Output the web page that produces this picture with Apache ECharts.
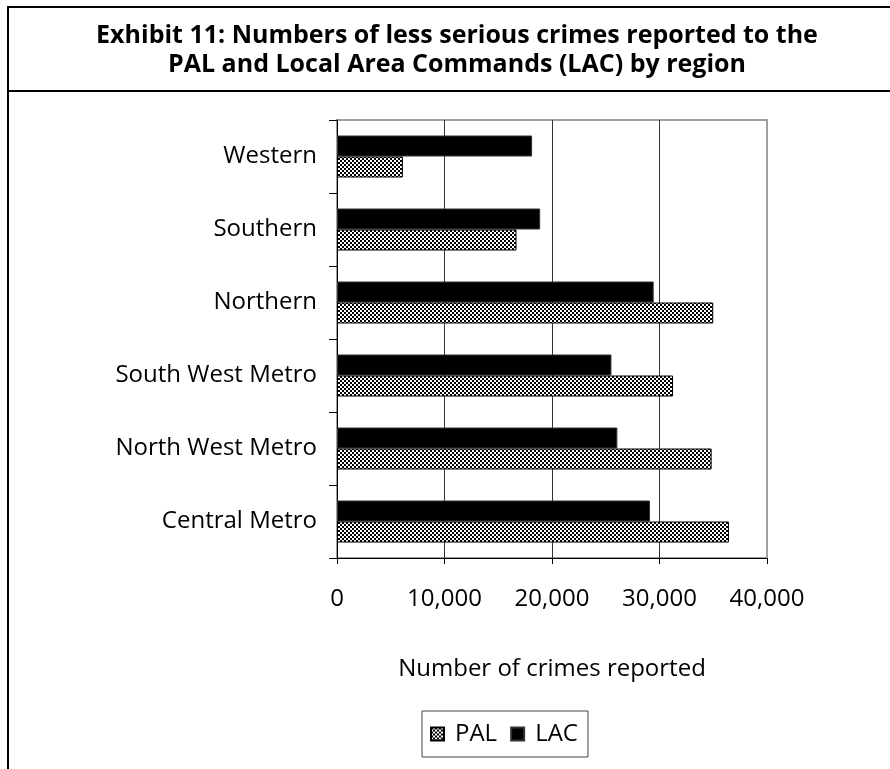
<!DOCTYPE html>
<html>
<head>
<meta charset="utf-8">
<script src="https://cdn.jsdelivr.net/npm/echarts@6/dist/echarts.min.js"></script>
<style>
html,body{margin:0;padding:0;background:#fff;}
#chart{width:890px;height:769px;}
</style>
</head>
<body>
<div id="chart"></div>
<script>
// Data (categories listed bottom-to-top, as the category axis grows upward)
var categories = ['Central Metro', 'North West Metro', 'South West Metro', 'Northern', 'Southern', 'Western'];
var palValues = [36460, 34850, 31260, 35000, 16700, 6130];
var lacValues = [29120, 26080, 25530, 29460, 18900, 18150];
var xTicks = [0, 10000, 20000, 30000, 40000];
var titleLines = ['Exhibit 11: Numbers of less serious crimes reported to the', 'PAL and Local Area Commands (LAC) by region'];
var xAxisName = 'Number of crimes reported';

// checkered pattern for PAL
var pc = document.createElement('canvas');
pc.width = 4; pc.height = 4;
var ctx = pc.getContext('2d');
ctx.fillStyle = '#fff'; ctx.fillRect(0, 0, 4, 4);
ctx.fillStyle = '#000'; ctx.fillRect(0, 0, 2, 2); ctx.fillRect(2, 2, 2, 2);
var palFill = { image: pc, repeat: 'repeat' };

var FONT = '"Open Sans", "Noto Sans", sans-serif';
var chart = echarts.init(document.getElementById('chart'), null, { renderer: 'canvas' });
chart.setOption({
  backgroundColor: '#fff',
  animation: false,
  graphic: [
    { type: 'rect', shape: { x: 8, y: 7, width: 1000, height: 900 }, style: { fill: 'none', stroke: '#000', lineWidth: 2 }, silent: true },
    { type: 'line', shape: { x1: 8, y1: 91, x2: 1000, y2: 91 }, style: { stroke: '#000', lineWidth: 2 }, silent: true }
  ],
  title: {
    text: titleLines.join('\n'),
    left: 452, top: 16, textAlign: 'center',
    textStyle: { fontFamily: FONT, fontWeight: 'bold', fontSize: 25, lineHeight: 29, color: '#000' }
  },
  legend: {
    data: [{ name: 'PAL', icon: 'rect' }, { name: 'LAC', icon: 'rect' }],
    left: 422, top: 711,
    orient: 'horizontal',
    itemWidth: 13, itemHeight: 13, itemGap: 13,
    padding: [11, 10, 11, 8],
    borderColor: '#444', borderWidth: 1,
    textStyle: { fontFamily: FONT, fontSize: 24, color: '#000', padding: [0, 0, 0, 6] }
  },
  grid: {
    left: 337, top: 120, width: 430, height: 438,
    show: true, borderColor: '#a0a0a0', borderWidth: 2, backgroundColor: '#fff'
  },
  xAxis: {
    type: 'value', min: xTicks[0], max: xTicks[xTicks.length - 1], interval: 10000,
    name: xAxisName, nameLocation: 'middle', nameGap: 99,
    nameTextStyle: { fontFamily: FONT, fontSize: 24, color: '#000' },
    axisLine: { show: true, lineStyle: { color: '#000', width: 1 } },
    axisTick: { show: true, inside: false, length: 6, lineStyle: { color: '#000' } },
    axisLabel: { fontFamily: FONT, fontSize: 24, color: '#000', margin: 29,
      formatter: function (v) { return v.toLocaleString('en-US'); } },
    splitLine: { show: true, showMinLine: false, showMaxLine: false, lineStyle: { color: '#333', width: 1 } }
  },
  yAxis: {
    type: 'category', data: categories,
    axisLine: { show: true, lineStyle: { color: '#000', width: 1 } },
    axisTick: { show: true, inside: false, length: 8, lineStyle: { color: '#000' } },
    axisLabel: { fontFamily: FONT, fontSize: 24, color: '#000', margin: 20 },
    splitLine: { show: false }
  },
  series: [
    { name: 'LAC', type: 'bar', data: lacValues, barWidth: 21, barGap: '0%',
      itemStyle: { color: '#000', borderColor: '#333', borderWidth: 1 } },
    { name: 'PAL', type: 'bar', data: palValues, barWidth: 21, barGap: '0%',
      itemStyle: { color: palFill, borderColor: '#000', borderWidth: 1 } }
  ]
});
</script>
</body>
</html>
